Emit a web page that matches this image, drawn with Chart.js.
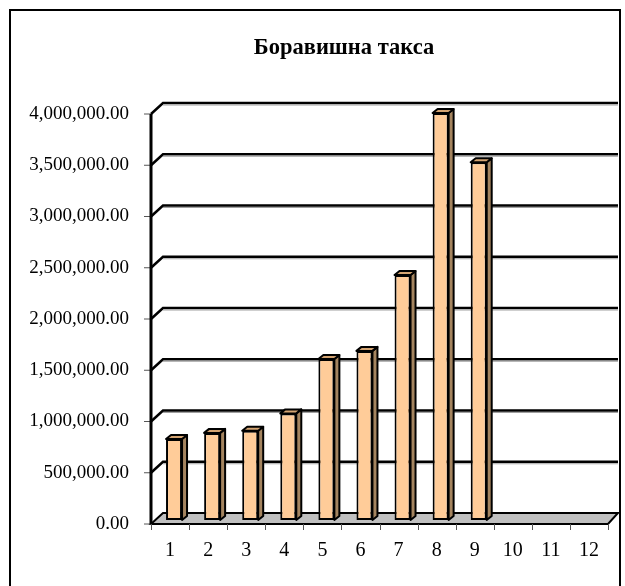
<!DOCTYPE html>
<html>
<head>
<meta charset="utf-8">
<script src="https://cdn.jsdelivr.net/npm/chart.js@4/dist/chart.umd.min.js"></script>
<style>
  body { margin: 0; background: #fff; }
  #chart { display: block; }
</style>
</head>
<body>
<canvas id="chart" width="625" height="586"></canvas>
<script>
const chartTitle = 'Боравишна такса';
const months = ['1', '2', '3', '4', '5', '6', '7', '8', '9', '10', '11', '12'];
const taxValues = [790000, 850000, 870000, 1040000, 1570000, 1650000, 2390000, 3970000, 3490000, null, null, null];
const yMin = 0;
const yMax = 4000000;
const yStep = 500000;

const serif = "'Liberation Serif', 'Times New Roman', serif";

// fake 3d: back wall offset and bar depth
const wallDx = 12, wallDy = -11;
const barShiftX = 4, barShiftY = -4;
const barDx = 5, barDy = -4;

function fmt(v) {
    return v.toLocaleString('en-US', { minimumFractionDigits: 2, maximumFractionDigits: 2 });
}

const wallPlugin = {
    id: 'wall',
    beforeDatasetsDraw(chart) {
        const { ctx, chartArea: a, scales: { y } } = chart;
        ctx.save();

        // floor
        ctx.beginPath();
        ctx.moveTo(a.left, a.bottom);
        ctx.lineTo(a.right, a.bottom);
        ctx.lineTo(a.right + 10, a.bottom + wallDy);
        ctx.lineTo(a.left + wallDx, a.bottom + wallDy);
        ctx.closePath();
        ctx.fillStyle = '#c0c0c0';
        ctx.fill();
        ctx.lineWidth = 2;
        ctx.strokeStyle = '#000';
        ctx.stroke();

        // grid lines on back wall
        y.ticks.forEach(t => {
            if (t.value === 0) return;
            const py = y.getPixelForValue(t.value);
            ctx.beginPath();
            ctx.moveTo(a.left, py);
            ctx.lineTo(a.left + wallDx, py + wallDy);
            ctx.lineTo(a.right + 10, py + wallDy);
            ctx.lineWidth = 2.5;
            ctx.strokeStyle = '#000';
            ctx.stroke();
            ctx.beginPath();
            ctx.moveTo(a.left + wallDx, py + wallDy + 2);
            ctx.lineTo(a.right + 10, py + wallDy + 2);
            ctx.lineWidth = 1;
            ctx.strokeStyle = '#a0a0a0';
            ctx.stroke();
            // tick mark
            ctx.beginPath();
            ctx.moveTo(a.left - 7, py);
            ctx.lineTo(a.left, py);
            ctx.lineWidth = 1;
            ctx.strokeStyle = '#555';
            ctx.stroke();
        });
        ctx.beginPath();
        ctx.moveTo(a.left - 7, a.bottom);
        ctx.lineTo(a.left, a.bottom);
        ctx.lineWidth = 1;
        ctx.strokeStyle = '#555';
        ctx.stroke();

        // left axis
        ctx.beginPath();
        ctx.moveTo(a.left, y.getPixelForValue(yMax));
        ctx.lineTo(a.left, a.bottom);
        ctx.lineWidth = 3;
        ctx.strokeStyle = '#000';
        ctx.stroke();

        // category ticks under the floor
        const n = months.length;
        const step = (a.right - a.left) / n;
        for (let i = 0; i <= n; i++) {
            const px = Math.round(a.left + i * step) + 0.5;
            ctx.beginPath();
            ctx.moveTo(px, a.bottom);
            ctx.lineTo(px, a.bottom + 6);
            ctx.lineWidth = 1;
            ctx.strokeStyle = '#555';
            ctx.stroke();
        }
        ctx.restore();

        ctx.save();
        ctx.translate(barShiftX, barShiftY);
    },
    afterDatasetsDraw(chart) {
        const { ctx } = chart;
        const meta = chart.getDatasetMeta(0);
        meta.data.forEach((bar, i) => {
            if (taxValues[i] === null) return;
            const { x, y, base, width } = bar.getProps(['x', 'y', 'base', 'width'], true);
            const l = x - width / 2, r = x + width / 2;
            ctx.lineJoin = 'round';
            ctx.lineWidth = 2;
            ctx.strokeStyle = '#000';
            // side
            ctx.beginPath();
            ctx.moveTo(r, y);
            ctx.lineTo(r + barDx, y + barDy);
            ctx.lineTo(r + barDx, base + barDy);
            ctx.lineTo(r, base);
            ctx.closePath();
            ctx.fillStyle = '#a4845f';
            ctx.fill();
            ctx.stroke();
            // top
            ctx.beginPath();
            ctx.moveTo(l, y);
            ctx.lineTo(l + barDx, y + barDy);
            ctx.lineTo(r + barDx, y + barDy);
            ctx.lineTo(r, y);
            ctx.closePath();
            ctx.fillStyle = '#d4a472';
            ctx.fill();
            ctx.stroke();
        });
        ctx.restore();
    },
    afterDraw(chart) {
        const { ctx } = chart;
        ctx.save();
        // title (excel puts it a bit right of centre)
        ctx.fillStyle = '#000';
        ctx.font = 'bold 22.5px ' + serif;
        ctx.textAlign = 'center';
        ctx.textBaseline = 'middle';
        ctx.fillText(chartTitle, 344, 48);
        // chart border
        ctx.lineWidth = 2;
        ctx.strokeStyle = '#000';
        ctx.strokeRect(10, 10, 610, 600);
        ctx.restore();
    }
};

new Chart(document.getElementById('chart'), {
    type: 'bar',
    data: {
        labels: months,
        datasets: [{
            label: chartTitle,
            data: taxValues,
            backgroundColor: '#ffcc99',
            borderColor: '#000',
            borderWidth: 2,
            borderSkipped: false,
            categoryPercentage: 1,
            barPercentage: 0.42,
            clip: false
        }]
    },
    options: {
        responsive: false,
        animation: false,
        layout: { padding: { left: 0, right: 17, top: 114, bottom: 8 } },
        plugins: {
            legend: { display: false },
            tooltip: { enabled: false },
            title: { display: false }
        },
        scales: {
            x: {
                grid: { display: false, drawTicks: false },
                border: { display: false },
                ticks: { color: '#000', font: { family: serif, size: 20 }, padding: 15, maxRotation: 0 }
            },
            y: {
                min: yMin,
                max: yMax,
                afterFit(scale) { scale.width = 151; },
                grid: { display: false, drawTicks: false },
                border: { display: false },
                ticks: {
                    stepSize: yStep,
                    color: '#000',
                    font: { family: serif, size: 19 },
                    padding: 22,
                    callback: v => fmt(v)
                }
            }
        }
    },
    plugins: [wallPlugin]
});
</script>
</body>
</html>
